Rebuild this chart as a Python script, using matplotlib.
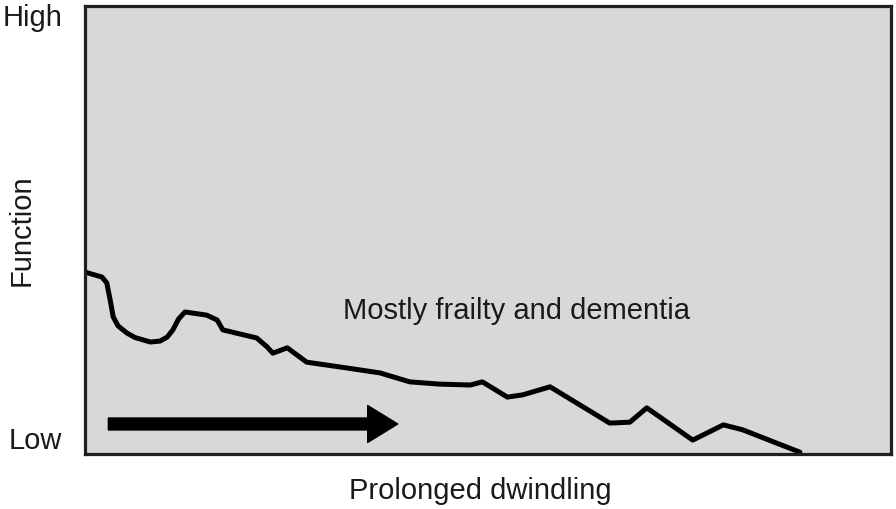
import matplotlib.pyplot as plt

# trajectory of function over time (0-100 scale)
time = [0, 2.1, 2.7, 3.1, 3.5, 4.1, 5.2, 6.2, 8.1, 9.3, 10.2, 10.9, 11.6, 12.4,
        15.1, 16.4, 17.1, 21.3, 22.6, 23.3, 25.1, 27.5, 32.5, 36.6, 40.3, 44.0,
        47.8, 49.3, 52.4, 54.3, 57.7, 65.1, 67.6, 69.7, 75.4, 79.2, 81.6, 88.7]
function = [40.6, 39.5, 38.2, 34.6, 30.6, 28.6, 27.0, 26.0, 25.0, 25.2, 26.1,
            27.7, 30.1, 31.7, 31.0, 29.9, 27.7, 25.9, 23.9, 22.5, 23.7, 20.5,
            19.2, 18.1, 16.1, 15.6, 15.4, 16.1, 12.7, 13.2, 15.0, 6.9, 7.1, 10.3,
            3.1, 6.5, 5.4, 0.4]

arrow_start, arrow_end, arrow_y = 2.9, 38.8, 6.7

INK = "#1a1a1a"
FS = 21
plt.rcParams["font.family"] = ["Liberation Sans", "DejaVu Sans"]

fig = plt.figure(figsize=(8.96, 5.09), dpi=100)
ax = fig.add_axes([85 / 896, 55 / 509, 806 / 896, 448 / 509])
ax.set_facecolor("#d8d8d8")
ax.set_xlim(0, 100)
ax.set_ylim(0, 100)
ax.set_xticks([])
ax.set_yticks([])
for s in ax.spines.values():
    s.set_linewidth(2.3)
    s.set_color("#202020")

ax.plot(time, function, color="black", lw=3.6, solid_joinstyle="round",
        solid_capstyle="round")

ax.annotate("", xy=(arrow_end, arrow_y), xytext=(arrow_start, arrow_y),
            arrowprops=dict(arrowstyle="simple,head_length=1.08,head_width=1.33,tail_width=0.43",
                            mutation_scale=20, color="black", shrinkA=0, shrinkB=0))

ax.text(53.5, 31.9, "Mostly frailty and dementia", fontsize=FS, color=INK,
        ha="center", va="center")

fig.text(33 / 896, 1 - 18 / 509, "High", fontsize=FS, color=INK, ha="center", va="center")
fig.text(35 / 896, 1 - 441 / 509, "Low", fontsize=FS, color=INK, ha="center", va="center")
fig.text(22 / 896, 1 - 230 / 509, "Function", fontsize=FS, color=INK,
         ha="center", va="center", rotation=90)
fig.text(480 / 896, 1 - 491 / 509, "Prolonged dwindling", fontsize=FS, color=INK,
         ha="center", va="center")

fig.savefig("out.png", dpi=100, facecolor="white")
